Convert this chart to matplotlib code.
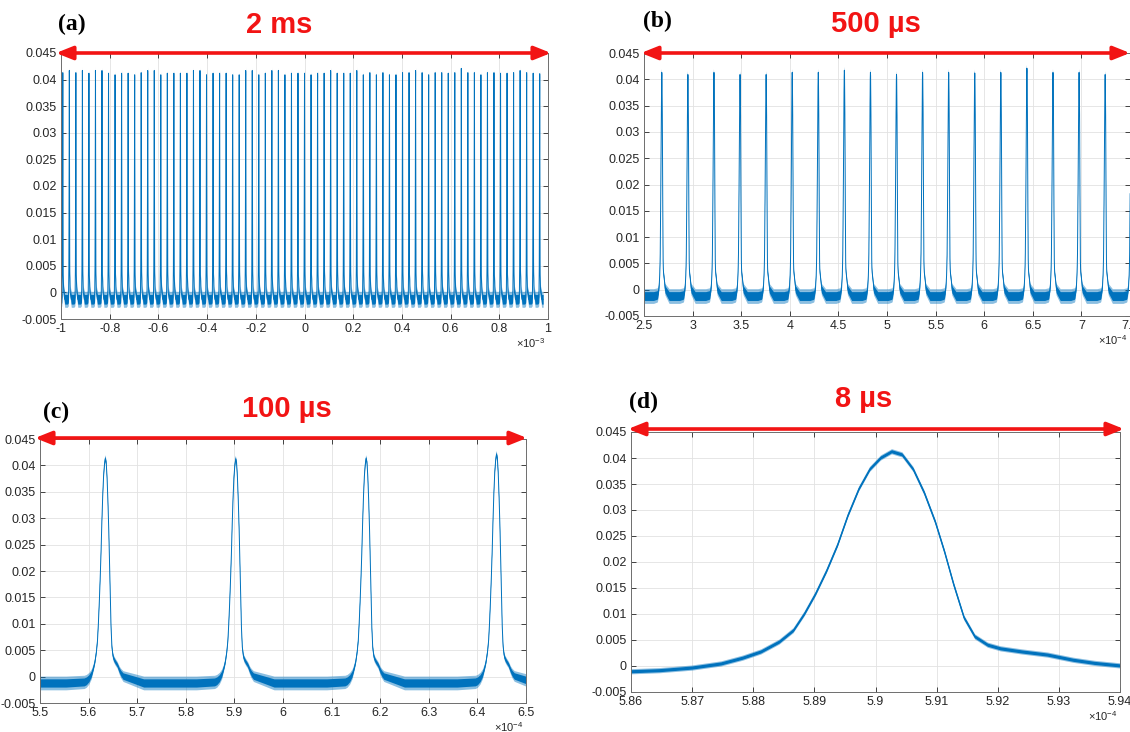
import numpy as np
import matplotlib
matplotlib.use("Agg")
import matplotlib.pyplot as plt
from matplotlib.patches import FancyArrowPatch
from matplotlib.ticker import FuncFormatter

plt.rcParams['font.family'] = ['Liberation Sans', 'DejaVu Sans']
plt.rcParams['mathtext.fontset'] = 'custom'
plt.rcParams['mathtext.rm'] = 'Liberation Sans'

# pulse train (times in microseconds)
first_pulse_us = -992.7
pulse_period_us = 26.83
trace_start_us = -1000.0
trace_end_us = 980.0
baseline = -0.0013
# visible peak tops, pulse by pulse
pulse_heights = [
    0.0421, 0.0425, 0.0421, 0.0425, 0.0420, 0.0425, 0.0425, 0.0420, 0.0417, 0.0420,
    0.0420, 0.0417, 0.0421, 0.0425, 0.0425, 0.0417, 0.0420, 0.0420, 0.0420, 0.0420,
    0.0425, 0.0425, 0.0417, 0.0420, 0.0420, 0.0420, 0.0417, 0.0417, 0.0425, 0.0425,
    0.0417, 0.0420, 0.0425, 0.0425, 0.0417, 0.0420, 0.0420, 0.0420, 0.0417, 0.0420,
    0.0420, 0.0425, 0.0420, 0.0420, 0.0420, 0.0425, 0.0417,
    # zoomed part, panel (b)
    0.0421, 0.0417, 0.0421, 0.0417, 0.0417, 0.0421, 0.0421, 0.0425, 0.0421, 0.0417,
    0.0421, 0.0421, 0.0420, 0.0421, 0.0429, 0.0421, 0.0421, 0.0417,
    0.0421, 0.0421, 0.0420, 0.0420, 0.0421, 0.0425, 0.0421, 0.0420, 0.0419,
]
top_noise = 0.0008

# single pulse shape: offset from peak (us), amplitude
profile_offset_us = [-8.0, -4.25, -3.80, -3.27, -2.79, -2.44, -2.14, -1.84, -1.61, -1.43,
                     -1.25, -1.07, -0.89, -0.72, -0.54, -0.36, -0.18, 0.0, 0.17, 0.35,
                     0.53, 0.71, 0.86, 1.01, 1.18, 1.36, 1.57, 1.78, 2.13, 2.55,
                     2.97, 3.32, 3.75, 8.0]
profile_value = [-0.0013, -0.0011, -0.0009, -0.0004, 0.0004, 0.0015, 0.0027, 0.0046, 0.0068, 0.0100,
                 0.0138, 0.0182, 0.0232, 0.0289, 0.0340, 0.0378, 0.0400, 0.0412, 0.0406, 0.0378,
                 0.0333, 0.0277, 0.0220, 0.0157, 0.0093, 0.0056, 0.0040, 0.0033, 0.0027, 0.0021,
                 0.0011, 0.0005, 0.0000, -0.0013]

panel_letters = ['(a)', '(b)', '(c)', '(d)']
span_labels = ['2 ms', '500 µs', '100 µs', '8 µs']
x_limits = [(-1e-3, 1e-3), (2.5e-4, 7.5e-4), (5.5e-4, 6.5e-4), (5.86e-4, 5.94e-4)]
x_steps = [0.2e-3, 0.5e-4, 0.1e-4, 0.01e-4]
x_scales = [1e-3, 1e-4, 1e-4, 1e-4]
exp_labels = [r'$\times10^{-3}$', r'$\times10^{-4}$', r'$\times10^{-4}$', r'$\times10^{-4}$']
noise_halfwidth = [0.0015, 0.0014, 0.0013, 0.0005]

# build the trace from the pulses
prof_t = np.array(profile_offset_us)
prof_v = np.array(profile_value)
prof_peak = max(profile_value)
t_list = [np.array([trace_start_us])]
v_list = [np.array([baseline])]
for i, h in enumerate(pulse_heights):
    tp = first_pulse_us + i * pulse_period_us
    t_list.append(tp + prof_t)
    v_list.append(baseline + (prof_v - baseline) * (h - top_noise - baseline) / (prof_peak - baseline))
t_list.append(np.array([trace_end_us]))
v_list.append(np.array([baseline]))
t_sig = np.concatenate(t_list) * 1e-6
v_sig = np.concatenate(v_list)
keep = (t_sig >= trace_start_us * 1e-6) & (t_sig <= trace_end_us * 1e-6)
t_sig, v_sig = t_sig[keep], v_sig[keep]

W, H = 1130, 732
fig = plt.figure(figsize=(W / 100, H / 100), dpi=100)

# axes boxes in pixels: left, top, right, bottom
boxes = [(61, 53, 548, 319), (644, 53, 1130, 316), (40, 439, 526, 703), (631, 432, 1120, 692)]
letter_pos = [(72, 24), (657, 21), (56, 412), (643, 402)]
label_pos = [(279, 25), (876, 24), (287, 409), (864, 399)]
arrow_y = [53, 53, 438, 429]
arrow_x = [(56, 551), (641, 1130), (35, 527), (628, 1124)]

blue = '#0072BD'
red = '#f21414'

for k in range(4):
    l, t, r, b = boxes[k]
    ax = fig.add_axes([l / W, 1 - b / H, (r - l) / W, (b - t) / H])
    w = noise_halfwidth[k]
    if k < 3:
        taper = np.clip(1 - (v_sig - baseline) / 0.006, 0.5, 1.0)
    else:
        taper = np.ones_like(v_sig)
    ax.fill_between(t_sig, v_sig - w * taper, v_sig + w * taper, color=blue, alpha=0.45, linewidth=0)
    ax.fill_between(t_sig, v_sig - 0.6 * w * taper, v_sig + 0.6 * w * taper, color=blue, linewidth=0)
    ax.plot(t_sig, v_sig, color=blue, lw=0.7 if k < 3 else 1.0)

    x0, x1 = x_limits[k]
    ax.set_xlim(x0, x1)
    ax.set_ylim(-0.005, 0.045)
    n = int(round((x1 - x0) / x_steps[k]))
    ax.set_xticks(np.linspace(x0, x1, n + 1))
    ax.set_yticks(np.linspace(-0.005, 0.045, 11))
    sc = x_scales[k]
    ax.xaxis.set_major_formatter(FuncFormatter(lambda v, _, sc=sc: '%g' % (round(v / sc, 6) + 0.0)))
    ax.yaxis.set_major_formatter(FuncFormatter(lambda v, _: '%g' % (round(v, 6) + 0.0)))
    ax.tick_params(direction='in', length=3.5, width=0.6, labelsize=9, colors='#262626',
                   top=True, right=True, pad=3)
    ax.grid(True, color='#e2e2e2', linewidth=0.6)
    ax.set_axisbelow(True)
    for s in ax.spines.values():
        s.set_color('#6e6e6e')
        s.set_linewidth(0.7)

    fig.text(r / W - 0.002, 1 - (b + 24) / H, exp_labels[k], ha='right', va='center',
             fontsize=8, color='#262626')

    lx, ly = letter_pos[k]
    fig.text(lx / W, 1 - ly / H, panel_letters[k], family='Liberation Serif',
             fontweight='bold', fontsize=17, ha='center', va='center')
    sx, sy = label_pos[k]
    fig.text(sx / W, 1 - sy / H, span_labels[k], fontweight='bold', fontsize=21,
             color=red, ha='center', va='center')

    ya = 1 - arrow_y[k] / H
    xa, xb = arrow_x[k]
    arr = FancyArrowPatch((xa / W, ya), (xb / W, ya), transform=fig.transFigure,
                          arrowstyle='<|-|>,head_length=1.0,head_width=0.4',
                          mutation_scale=10, color=red, linewidth=2.6, shrinkA=0, shrinkB=0)
    fig.patches.append(arr)

fig.savefig('out.png', dpi=100)
